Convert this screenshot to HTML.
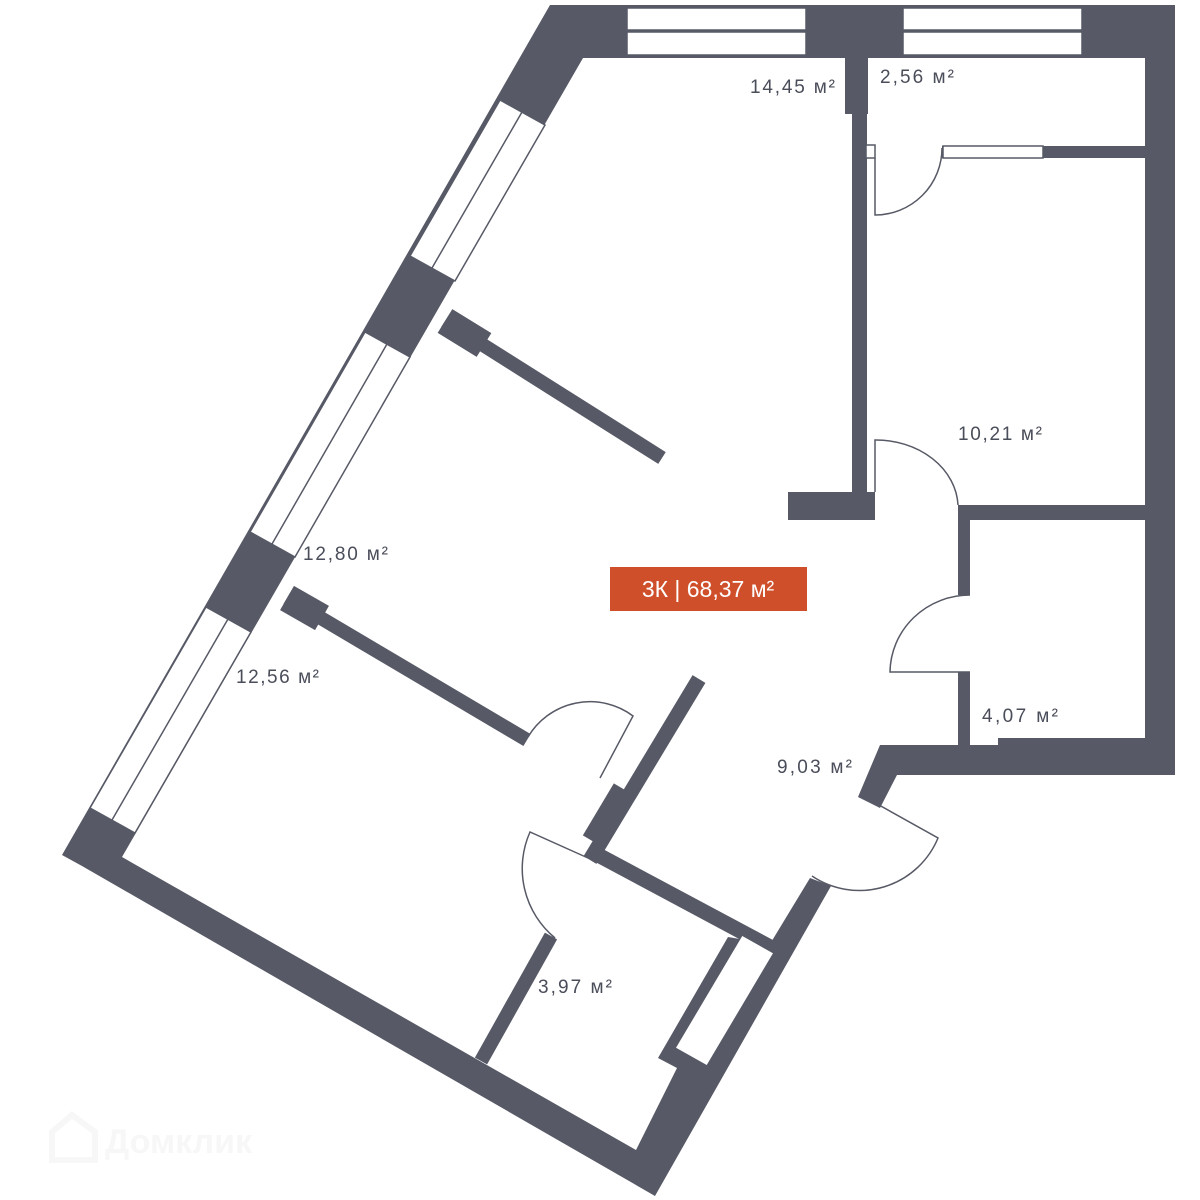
<!DOCTYPE html>
<html><head><meta charset="utf-8"><style>
html,body{margin:0;padding:0;background:#fff;}
svg{display:block;}
text{font-family:"Liberation Sans",sans-serif;}
</style></head><body>
<svg width="1200" height="1200" viewBox="0 0 1200 1200" xmlns="http://www.w3.org/2000/svg">
<g fill="#575a66">
<polygon points="550,5 1175,5 1175,775 897,775 880,808 858,797 880,745 998,745 998,738 1145,738 1145,58 583,58 122,857 636,1150 677,1068 658,1058 728,937 770,944 810,878 831,886 655,1196 82,866 62,855"/>
<rect x="845" y="58" width="23" height="56"/>
<rect x="852" y="112" width="15" height="382"/>
<rect x="788" y="492" width="87" height="28"/>
<rect x="942" y="146" width="203" height="12"/>
<rect x="958" y="505" width="187" height="15"/>
<rect x="958" y="520" width="12" height="75"/>
<rect x="958" y="672" width="12" height="76"/>
</g>
<g stroke="#575a66" fill="none">
<line x1="445" y1="321" x2="662" y2="458" stroke-width="14"/>
<line x1="445" y1="321" x2="484" y2="345" stroke-width="28"/>
<line x1="287" y1="598" x2="527" y2="740" stroke-width="14"/>
<line x1="287" y1="598" x2="322" y2="618" stroke-width="28"/>
<line x1="699" y1="679" x2="590" y2="860" stroke-width="15"/>
<line x1="625" y1="790" x2="594" y2="842" stroke-width="26"/>
<line x1="600" y1="856" x2="772" y2="948" stroke-width="15"/>
<line x1="551" y1="936" x2="481" y2="1061" stroke-width="14"/>
</g>
<g fill="#fff" stroke="#575a66" stroke-width="1.5">
<rect x="627" y="8" width="179" height="22"/>
<rect x="627" y="32" width="179" height="23"/>
<rect x="903" y="8" width="179" height="22"/>
<rect x="903" y="32" width="179" height="23"/>
<rect x="943" y="146" width="100" height="12"/>
<rect x="866" y="145" width="9" height="13"/>
<polygon points="500,100 545,125 455,281 410,256"/>
<polygon points="365,332 410,357 295,557 250,532"/>
<polygon points="206,607 251,632 135,833 90,808"/>
<polygon points="742,935 774,953 707,1066 675,1048"/>
</g>
<g stroke="#575a66" stroke-width="1.5">
<line x1="522" y1="112" x2="432" y2="268"/>
<line x1="387" y1="344" x2="272" y2="544"/>
<line x1="228" y1="619" x2="112" y2="820"/>
</g>
<g fill="none" stroke="#575a66" stroke-width="1.5">
<path d="M875,158 L875,215 A67,67 0 0 0 942,148"/>
<path d="M875,492 L875,440 A82,68 0 0 1 958,505"/>
<path d="M970,672 L890,672 A80,78 0 0 1 970,595"/>
<path d="M600,778 L633,716 A72,72 0 0 0 528,737"/>
<path d="M588,858 L530,832 A90,90 0 0 0 555,938"/>
<path d="M879,805 L938,838 A85,85 0 0 1 812,876"/>
</g>
<g fill="#4a4d5a" font-size="19">
<text x="750" y="93" textLength="85">14,45 м²</text>
<text x="880" y="83" textLength="74">2,56 м²</text>
<text x="958" y="440" textLength="84">10,21 м²</text>
<text x="303" y="560" textLength="85">12,80 м²</text>
<text x="236" y="683" textLength="83">12,56 м²</text>
<text x="982" y="722" textLength="76">4,07 м²</text>
<text x="777" y="773" textLength="75">9,03 м²</text>
<text x="538" y="993" textLength="74">3,97 м²</text>
</g>
<rect x="610" y="567" width="197" height="44" fill="#cf4f2b"/>
<text x="708" y="597" fill="#fff" font-size="23" text-anchor="middle">3К | 68,37 м²</text>
<text x="105" y="1153" fill="#f7f7f8" font-size="34" font-weight="bold">Домклик</text>
<path d="M52,1132 L72,1115 L95,1132 L95,1160 L60,1160 L52,1160 Z" fill="none" stroke="#f7f7f8" stroke-width="6"/>
</svg>
</body></html>
